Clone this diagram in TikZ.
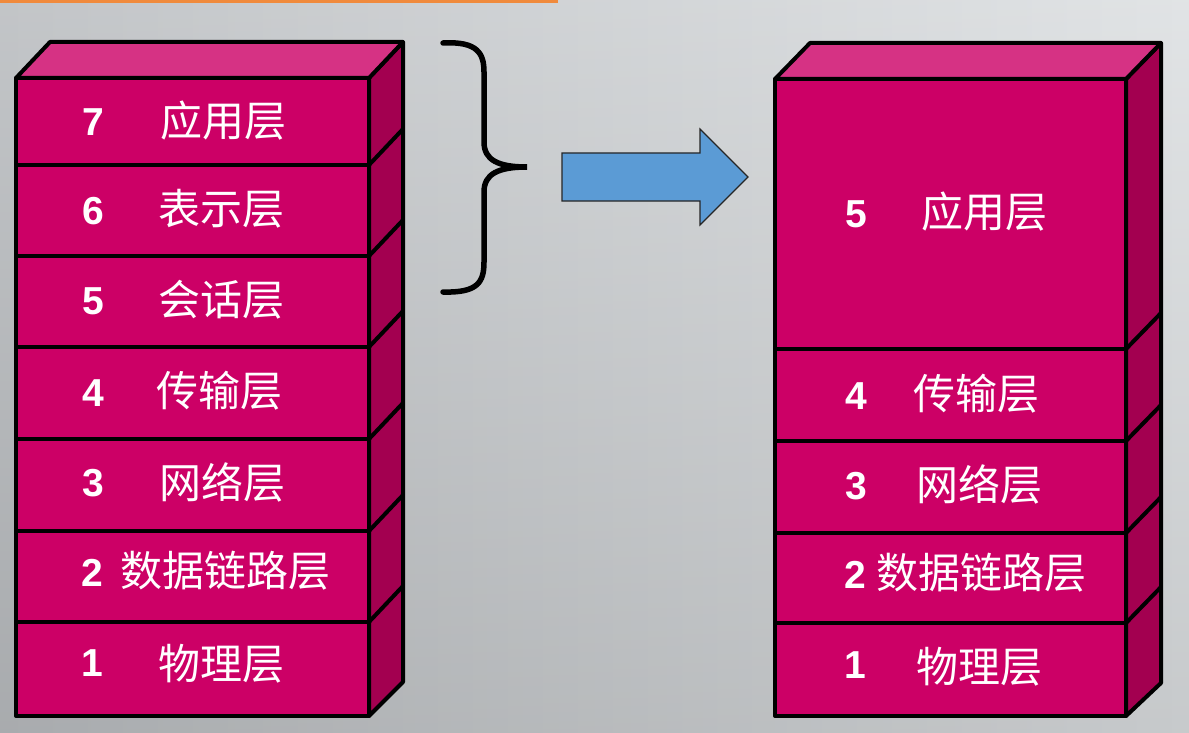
\documentclass[tikz,border=0pt]{standalone}
\usepackage{fontspec}
\setmainfont{Liberation Sans}
\newfontfamily\cjk{Noto Sans CJK SC}
\definecolor{frontc}{RGB}{204,0,102}
\definecolor{topc}{RGB}{214,50,132}
\definecolor{sidec}{RGB}{163,0,80}
\definecolor{arrowc}{RGB}{91,155,213}
\definecolor{orangec}{RGB}{240,138,60}
\definecolor{bgl}{RGB}{188,191,194}
\definecolor{bgm}{RGB}{218,221,223}
\definecolor{bgr}{RGB}{222,225,227}
\begin{document}
\begin{tikzpicture}[x=1pt,y=-1pt,
  edge/.style={draw=black,line width=4pt,line join=round},
  topface/.style={edge,fill=topc},
  sideface/.style={edge,fill=sidec},
  lfront/.style={edge,fill=frontc,rectangle,inner sep=0pt,outer sep=0pt,minimum width=353pt},
  rfront/.style={edge,fill=frontc,rectangle,inner sep=0pt,outer sep=0pt,minimum width=351pt},
  digitlbl/.style={text=white,font=\fontsize{39}{44}\selectfont\bfseries,inner sep=0pt},
  layerlbl/.style={text=white,font=\fontsize{42}{46}\selectfont\cjk,inner sep=0pt},
  bracestyle/.style={draw=black,line width=5.5pt,line cap=round},
  blockarrow/.style={draw=black!85,line width=1.2pt,fill=arrowc,line join=miter}]
\useasboundingbox (0,0) rectangle (1189,733);
% background
\shade[left color=bgl,middle color=bgm,right color=bgr] (0,0) rectangle (1189,733);
\shade[top color=white,bottom color=black,opacity=0.10] (0,0) rectangle (1189,733);
\fill[orangec] (0,0) rectangle (558,3.5);

% ---------- left stack ----------
\draw[sideface] (369,78) -- (403,42) -- (403,682) -- (369,716) -- cycle;
\draw[topface] (16,78) -- (50,42) -- (403,42) -- (369,78) -- cycle;
\foreach \yy in {165,256,347,439,531,622}{
  \draw[edge] (369,\yy) -- (403,\yy-36);
}
\node[lfront,minimum height=87pt] (L7) at (192.5,121.5) {};
\node[lfront,minimum height=91pt] (L6) at (192.5,210.5) {};
\node[lfront,minimum height=91pt] (L5) at (192.5,301.5) {};
\node[lfront,minimum height=92pt] (L4) at (192.5,393) {};
\node[lfront,minimum height=92pt] (L3) at (192.5,485) {};
\node[lfront,minimum height=91pt] (L2) at (192.5,576.5) {};
\node[lfront,minimum height=94pt] (L1) at (192.5,669) {};

\node[digitlbl] (L7n) at (93,122) {7};
\node[layerlbl] (L7t) at (223,121) {应用层};
\node[digitlbl] (L6n) at (93,211) {6};
\node[layerlbl] (L6t) at (221,209) {表示层};
\node[digitlbl] (L5n) at (93,301) {5};
\node[layerlbl] (L5t) at (221,300) {会话层};
\node[digitlbl] (L4n) at (93,393) {4};
\node[layerlbl] (L4t) at (219,391) {传输层};
\node[digitlbl] (L3n) at (93,483) {3};
\node[layerlbl] (L3t) at (222,482) {网络层};
\node[digitlbl] (L2n) at (92,573) {2};
\node[layerlbl] (L2t) at (225,571) {数据链路层};
\node[digitlbl] (L1n) at (92,663) {1};
\node[layerlbl] (L1t) at (221,664) {物理层};

% ---------- brace ----------
\draw[bracestyle] (443,43) .. controls (478,41) and (484,54) .. (484,72)
  -- (484,142) .. controls (484,160) and (498,167) .. (527,167)
  .. controls (498,167) and (484,174) .. (484,192)
  -- (484,262) .. controls (484,282) and (478,293) .. (443,292);

% ---------- block arrow ----------
\coordinate (tip) at (748,177);
\draw[blockarrow] (562,153) -- (700,153) -- (700,129) -- (tip) -- (700,225) -- (700,201) -- (562,201) -- cycle;

% ---------- right stack ----------
\draw[sideface] (1126,79) -- (1161,43) -- (1161,683) -- (1126,716) -- cycle;
\draw[topface] (775,79) -- (810,43) -- (1161,43) -- (1126,79) -- cycle;
\foreach \yy in {349,441,533,623}{
  \draw[edge] (1126,\yy) -- (1161,\yy-36);
}
\node[rfront,minimum height=270pt] (R5) at (950.5,214) {};
\node[rfront,minimum height=92pt]  (R4) at (950.5,395) {};
\node[rfront,minimum height=92pt]  (R3) at (950.5,487) {};
\node[rfront,minimum height=90pt]  (R2) at (950.5,578) {};
\node[rfront,minimum height=93pt]  (R1) at (950.5,669.5) {};

\node[digitlbl] (R5n) at (856,214) {5};
\node[layerlbl] (R5t) at (984,212) {应用层};
\node[digitlbl] (R4n) at (856,396) {4};
\node[layerlbl] (R4t) at (976,394) {传输层};
\node[digitlbl] (R3n) at (856,486) {3};
\node[layerlbl] (R3t) at (979,484) {网络层};
\node[digitlbl] (R2n) at (855,575) {2};
\node[layerlbl] (R2t) at (981,573) {数据链路层};
\node[digitlbl] (R1n) at (855,665) {1};
\node[layerlbl] (R1t) at (979,667) {物理层};
\end{tikzpicture}
\end{document}
